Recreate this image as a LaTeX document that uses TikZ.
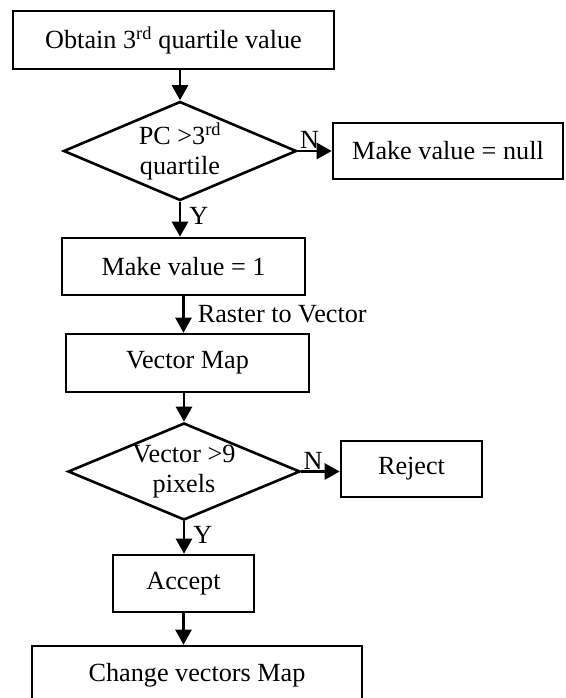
\documentclass[tikz,border=0pt]{standalone}
\usepackage{fontspec}
\setmainfont{Liberation Serif}
\usetikzlibrary{shapes.geometric,arrows.meta}
\begin{document}
\begin{tikzpicture}[x=1pt,y=-1pt,
  every node/.style={font=\fontsize{26.2pt}{30pt}\selectfont},
  procbox/.style={draw,line width=2.6pt,inner sep=0pt,align=center},
  decbox/.style={draw,line width=2.6pt,shape=diamond,inner sep=0pt,align=center},
  arr/.style={line width=2.6pt,-{Triangle[length=15pt,width=16pt]}},
  lab/.style={inner sep=1pt}
]
\useasboundingbox (0,0) rectangle (565,698);
\node[procbox,minimum width=321pt,minimum height=58pt] (b1) at (173.5,40) {Obtain 3\textsuperscript{rd} quartile value};
\node[decbox,minimum width=233pt,minimum height=99pt,aspect=2.35] (d1) at (180,151) {PC >3\textsuperscript{rd}\\quartile};
\node[procbox,minimum width=230pt,minimum height=56pt] (nul) at (448,151) {Make value = null};
\node[procbox,minimum width=243pt,minimum height=57pt] (mv1) at (183.5,266.5) {Make value = 1};
\node[procbox,minimum width=243pt,minimum height=58pt] (vm) at (187.5,363) {Vector Map};
\node[decbox,minimum width=232pt,minimum height=97pt,aspect=2.39] (d2) at (184,471.5) {Vector >9\\pixels};
\node[procbox,minimum width=141pt,minimum height=56pt] (rej) at (411.5,469) {Reject};
\node[procbox,minimum width=141pt,minimum height=57pt] (acc) at (183.5,583.5) {Accept};
\node[procbox,minimum width=330pt,minimum height=58pt] (chg) at (197,675) {Change vectors Map};

\draw[arr] (d1.north |- b1.south) -- (d1.north);
\draw[arr] (d1.east) -- node[lab,pos=0,anchor=south west]{N} (d1.east -| nul.west);
\draw[arr] (d1.south) -- node[lab,pos=0,anchor=north west,xshift=7pt,yshift=-3pt]{Y} (d1.south |- mv1.north);
\draw[arr] (mv1.south) -- node[inner sep=0pt,anchor=west,xshift=13pt]{Raster to Vector} (mv1.south |- vm.north);
\draw[arr] (d2.north |- vm.south) -- (d2.north);
\draw[arr] (d2.east) -- node[lab,pos=0,anchor=south west]{N} (d2.east -| rej.west);
\draw[arr] (d2.south) -- node[lab,pos=0,anchor=north west,xshift=7pt,yshift=-3pt]{Y} (d2.south |- acc.north);
\draw[arr] (acc.south) -- (acc.south |- chg.north);
\end{tikzpicture}
\end{document}
